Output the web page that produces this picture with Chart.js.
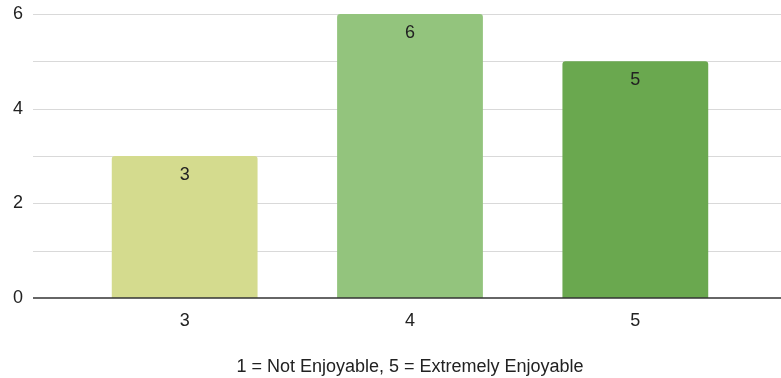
<!DOCTYPE html>
<html>
<head>
<meta charset="utf-8">
<script src="https://cdn.jsdelivr.net/npm/chart.js@4.4.1/dist/chart.umd.min.js"></script>
<style>
  html, body { margin: 0; padding: 0; background: #fff; }
  #wrap { width: 781px; height: 378px; position: relative; }
</style>
</head>
<body>
<div id="wrap"><canvas id="c" width="781" height="378"></canvas></div>
<script>
// Enjoyment ratings and how many responses each received
const ratings = ['3', '4', '5'];
const counts = [3, 6, 5];
const barColors = ['#d4db8e', '#93c47d', '#6aa84f'];
const yTicks = [0, 2, 4, 6];
const axisTitle = '1 = Not Enjoyable, 5 = Extremely Enjoyable';

const FONT = 'Arial, "Liberation Sans", sans-serif';
const SIZE = 18;
const TEXT = '#222222';

// Horizontal gridlines run the full width of the canvas, past the category band
const fullGrid = {
  id: 'fullGrid',
  beforeDatasetsDraw(chart) {
    const { ctx, scales: { y } } = chart;
    ctx.save();
    ctx.strokeStyle = '#d9d9d9';
    ctx.lineWidth = 1;
    for (let v = y.min + 1; v <= y.max; v += 1) {
      const py = Math.round(y.getPixelForValue(v));
      ctx.beginPath();
      ctx.moveTo(33, py + 0.5);
      ctx.lineTo(chart.width, py + 0.5);
      ctx.stroke();
    }
    ctx.restore();
  },
  afterDatasetsDraw(chart) {
    const { ctx, scales: { y } } = chart;
    const py = Math.round(y.getPixelForValue(0));
    ctx.save();
    ctx.strokeStyle = '#333333';
    ctx.lineWidth = 1.5;
    ctx.beginPath();
    ctx.moveTo(33, py);
    ctx.lineTo(chart.width, py);
    ctx.stroke();
    ctx.restore();
  }
};

// Value printed inside each bar just below its top
const barValues = {
  id: 'barValues',
  afterDatasetsDraw(chart) {
    const { ctx } = chart;
    const meta = chart.getDatasetMeta(0);
    ctx.save();
    ctx.font = SIZE + 'px ' + FONT;
    ctx.fillStyle = TEXT;
    ctx.textAlign = 'center';
    ctx.textBaseline = 'middle';
    meta.data.forEach((bar, i) => {
      ctx.fillText(String(counts[i]), bar.x, bar.y + 19);
    });
    ctx.restore();
  }
};

new Chart(document.getElementById('c'), {
  type: 'bar',
  data: {
    labels: ratings,
    datasets: [{
      data: counts,
      backgroundColor: barColors,
      borderRadius: { topLeft: 3, topRight: 3 },
      borderSkipped: 'bottom',
      categoryPercentage: 1,
      barPercentage: 0.647
    }]
  },
  options: {
    responsive: false,
    animation: false,
    devicePixelRatio: 1,
    layout: { padding: { top: 14, right: 33, left: 0, bottom: 0 } },
    plugins: { legend: { display: false }, tooltip: { enabled: false } },
    scales: {
      x: {
        grid: { display: false, drawTicks: false },
        border: { display: false },
        ticks: { color: TEXT, font: { family: FONT, size: SIZE }, padding: 12 },
        title: {
          display: true,
          text: axisTitle,
          color: TEXT,
          font: { family: FONT, size: SIZE },
          padding: { top: 4, bottom: 0 }
        },
        afterFit(scale) { scale.height = 80; }
      },
      y: {
        min: 0,
        max: 6,
        grid: { display: false, drawTicks: false },
        border: { display: false },
        afterBuildTicks(scale) { scale.ticks = yTicks.map(v => ({ value: v })); },
        ticks: { color: TEXT, font: { family: FONT, size: SIZE }, padding: 49 },
        afterFit(scale) {
          scale.width = 72;
          scale.paddingTop = 0;
          scale.paddingBottom = 0;
        }
      }
    }
  },
  plugins: [fullGrid, barValues]
});
</script>
</body>
</html>
